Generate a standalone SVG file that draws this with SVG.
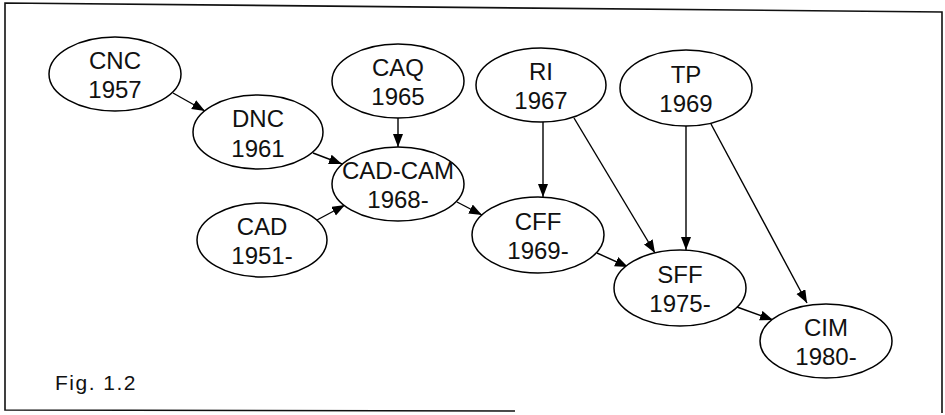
<svg xmlns="http://www.w3.org/2000/svg" width="945" height="415" viewBox="0 0 945 415">
<style>
.n ellipse{fill:#fff;stroke:#000;stroke-width:1.5}
.n text{font-family:"Liberation Sans",Arial,sans-serif;font-size:24px;text-anchor:middle;fill:#111}
.c line{stroke:#000;stroke-width:1.4;marker-end:url(#ah)}
.frame{fill:none;stroke:#111;stroke-width:1.6}
</style>
<defs>
<marker id="ah" markerUnits="userSpaceOnUse" markerWidth="14" markerHeight="12" refX="13" refY="5" orient="auto">
<path d="M0,0 L13,5 L0,10 Z" fill="#000"/>
</marker>
</defs>
<rect width="945" height="415" fill="#fff"/>
<path class="frame" d="M515,411 L5,410 L5,3 L942,12 L942,413"/>
<g class="c">
<line x1="173" y1="93" x2="205" y2="111"/>
<line x1="313" y1="153" x2="342" y2="164"/>
<line x1="398" y1="118" x2="398" y2="147"/>
<line x1="317" y1="220" x2="345" y2="205"/>
<line x1="457" y1="202" x2="482" y2="215"/>
<line x1="543" y1="122" x2="543" y2="197"/>
<line x1="574" y1="118" x2="655" y2="253"/>
<line x1="686" y1="126" x2="686" y2="250"/>
<line x1="711" y1="124" x2="807" y2="303"/>
<line x1="597" y1="253" x2="628" y2="267"/>
<line x1="737" y1="307" x2="773" y2="320"/>
</g>
<g id="cnc" class="n"><ellipse cx="115" cy="74" rx="66" ry="37"/><text x="115" y="69">CNC</text><text x="115" y="98">1957</text></g>
<g id="dnc" class="n"><ellipse cx="258" cy="132" rx="65" ry="37"/><text x="258" y="127">DNC</text><text x="258" y="157">1961</text></g>
<g id="caq" class="n"><ellipse cx="398" cy="81" rx="66" ry="37"/><text x="398" y="76">CAQ</text><text x="398" y="105">1965</text></g>
<g id="ri" class="n"><ellipse cx="541" cy="85" rx="65" ry="37"/><text x="541" y="80">RI</text><text x="541" y="109">1967</text></g>
<g id="tp" class="n"><ellipse cx="686" cy="88" rx="66" ry="38"/><text x="686" y="83">TP</text><text x="686" y="112">1969</text></g>
<g id="cadcam" class="n"><ellipse cx="398" cy="184" rx="66" ry="37"/><text x="398" y="179">CAD-CAM</text><text x="398" y="208">1968-</text></g>
<g id="cad" class="n"><ellipse cx="262" cy="240" rx="65" ry="37"/><text x="262" y="235">CAD</text><text x="262" y="264">1951-</text></g>
<g id="cff" class="n"><ellipse cx="538" cy="235" rx="66" ry="38"/><text x="538" y="230">CFF</text><text x="538" y="259">1969-</text></g>
<g id="sff" class="n"><ellipse cx="680" cy="288" rx="66" ry="38"/><text x="680" y="283">SFF</text><text x="680" y="312">1975-</text></g>
<g id="cim" class="n"><ellipse cx="826" cy="341" rx="66" ry="37"/><text x="826" y="336">CIM</text><text x="826" y="365">1980-</text></g>
<text x="55" y="390" font-family="Liberation Sans,Arial,sans-serif" font-size="21" letter-spacing="1.5" fill="#111">Fig. 1.2</text>
</svg>
